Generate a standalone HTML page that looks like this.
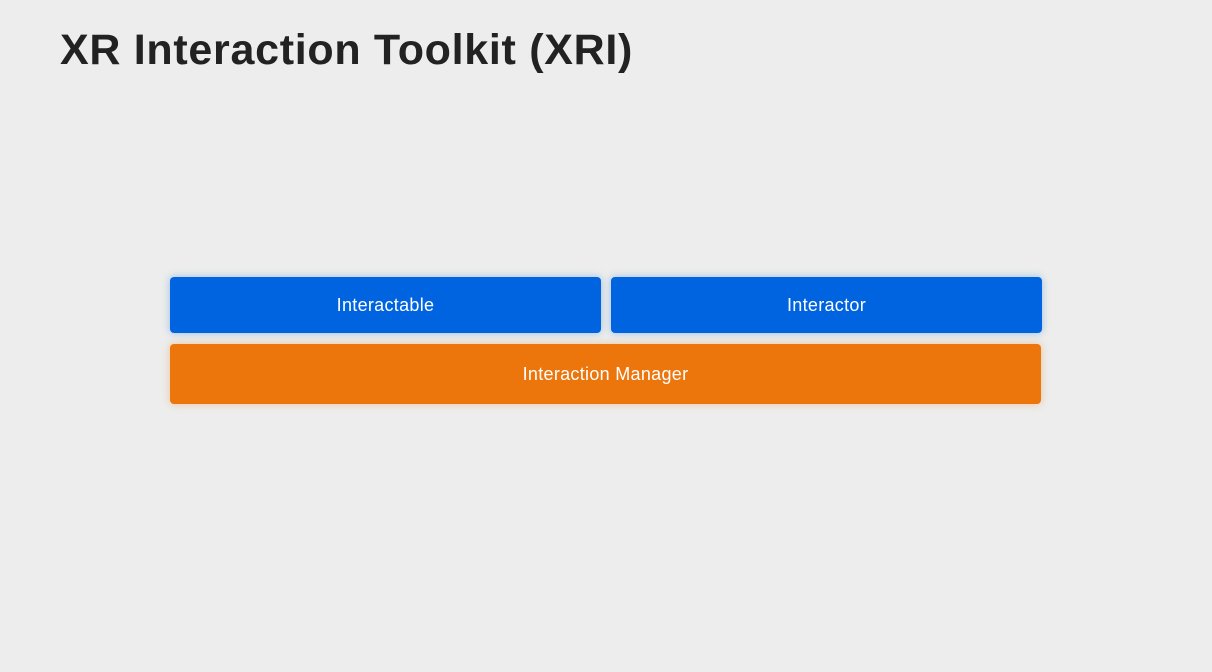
<!DOCTYPE html>
<html><head><style>
html,body{margin:0;padding:0;width:1212px;height:672px;background:#ecedec;overflow:hidden;font-family:"Liberation Sans",sans-serif}
h1{position:absolute;left:60px;top:26px;margin:0;font-size:43px;font-weight:bold;color:#222;letter-spacing:0.7px}
.b{position:absolute;display:flex;align-items:center;justify-content:center;color:#fff;font-size:18px;letter-spacing:0.3px;border-radius:4px}
.blue{background:#0064e1;box-shadow:0 0 8px rgba(0,100,225,0.35)}
.or{background:#ec760c;box-shadow:0 0 8px rgba(236,118,12,0.35)}
</style></head><body>
<h1>XR Interaction Toolkit (XRI)</h1>
<div class="b blue" style="left:170px;top:277px;width:431px;height:56px">Interactable</div>
<div class="b blue" style="left:611px;top:277px;width:431px;height:56px">Interactor</div>
<div class="b or" style="left:170px;top:344px;width:871px;height:60px">Interaction Manager</div>
</body></html>
